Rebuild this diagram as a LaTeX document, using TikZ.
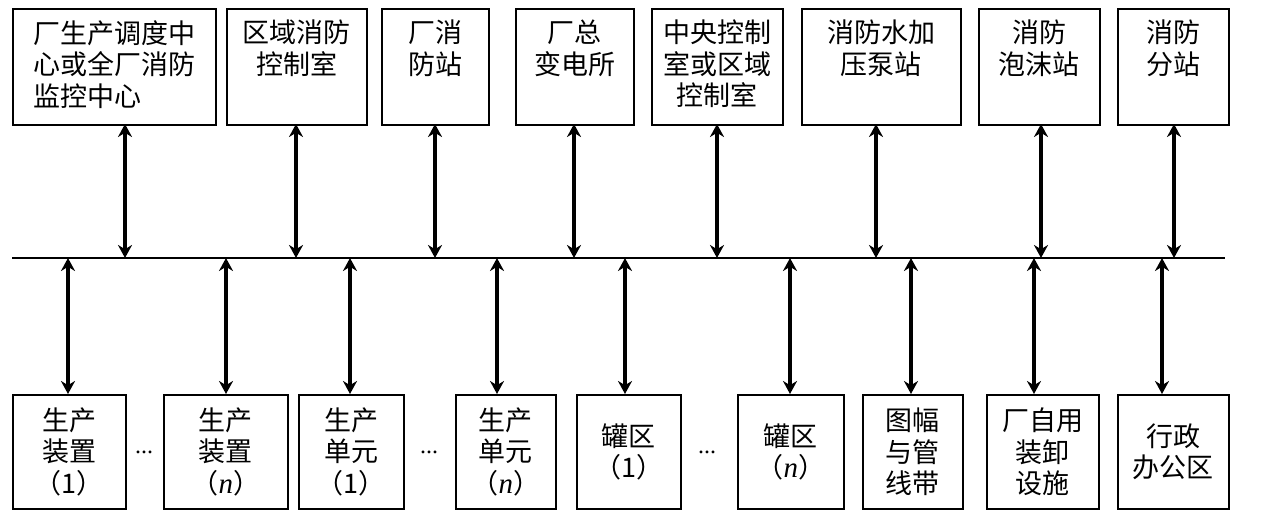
\documentclass[tikz,border=0pt]{standalone}
\usepackage{fontspec}
\newfontfamily\cjk{Noto Sans CJK SC}
\setmainfont{Liberation Serif}
\usetikzlibrary{arrows.meta}
\begin{document}
\begin{tikzpicture}[x=1pt,y=-1pt,
  bx/.style={draw,line width=1.6pt,inner sep=0pt},
  tx/.style={inner sep=0pt,font=\cjk\fontsize{27}{31.5}\selectfont,align=center},
  ar/.style={line width=4.5pt,{Stealth[length=13pt,width=14pt]}-{Stealth[length=13pt,width=14pt]}}]
\useasboundingbox (0,0) rectangle (1264,530);
\newcommand\tb[6]{\node[bx,minimum width=#3-#2,minimum height=116,anchor=north west] (#1) at (#2,8) {};
  \node[tx,anchor=north,#5] (#1l) at ([yshift=-12]#1.north) {#4};
  \coordinate (#1a) at (#6,124);}
\tb{t1}{12}{215}{厂生产调度中\\心或全厂消防\\监控中心}{align=left}{125}
\tb{t2}{226}{366}{区域消防\\控制室}{}{296}
\tb{t3}{381}{488}{厂消\\防站}{}{435}
\tb{t4}{515}{633}{厂总\\变电所}{}{574}
\tb{t5}{651}{782}{中央控制\\室或区域\\控制室}{}{717}
\tb{t6}{801}{960}{消防水加\\压泵站}{}{876}
\tb{t7}{978}{1099}{消防\\泡沫站}{}{1041}
\tb{t8}{1117}{1228}{消防\\分站}{}{1174}
\coordinate (L) at (12,258); \coordinate (R) at (1225,258);
\draw[line width=1.6pt] (L) -- (R);
\foreach \n/\x in {t1/125,t2/296,t3/435,t4/574,t5/717,t6/876,t7/1041,t8/1174}{
  \coordinate (\n b) at (\x,258);
  \draw[ar] (\n a) -- (\n b);}
\newcommand\bb[5]{\node[bx,minimum width=#3-#2,minimum height=114,anchor=north west] (#1) at (#2,394) {};
  \node[tx] (#1l) at (#1.center) {#4};
  \coordinate (#1a) at (#5,394); \coordinate (#1b) at (#5,258); \draw[ar] (#1a) -- (#1b);}
\newcommand\nn{{\rmfamily\itshape\fontsize{29}{31}\selectfont n}}
\bb{b1}{12}{125}{生产\\装置\\（1）}{68}
\bb{b2}{163}{287}{生产\\装置\\（\nn）}{226}
\bb{b3}{298}{403}{生产\\单元\\（1）}{350}
\bb{b4}{455}{555}{生产\\单元\\（\nn）}{497}
\bb{b5}{576}{680}{罐区\\（1）}{625}
\bb{b6}{737}{843}{罐区\\（\nn）}{790}
\bb{b7}{862}{962}{图幅\\与管\\线带}{911}
\bb{b8}{986}{1098}{厂自用\\装卸\\设施}{1034}
\bb{b9}{1117}{1228}{行政\\办公区}{1162}
\node[font=\fontsize{24}{28}\selectfont] (d1) at (144,452) {...};
\node[font=\fontsize{24}{28}\selectfont] (d2) at (429,452) {...};
\node[font=\fontsize{24}{28}\selectfont] (d3) at (707,452) {...};
\end{tikzpicture}
\end{document}
